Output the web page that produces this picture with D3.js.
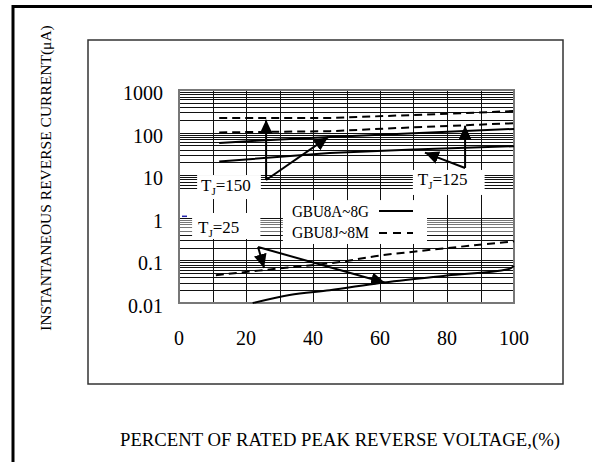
<!DOCTYPE html>
<html>
<head>
<meta charset="utf-8">
<script src="https://cdn.jsdelivr.net/npm/d3@7"></script>
<style>
  body { margin: 0; background: #fff; }
  svg { display: block; }
</style>
</head>
<body>
<div id="chart"></div>
<script>
// axis ticks
const xTicks = [0, 20, 40, 60, 80, 100];
const xGridVals = [0, 10, 20, 30, 40, 50, 60, 70, 80, 90, 100];
const yTicks = [1000, 100, 10, 1, 0.1, 0.01];
const yTickLabels = ["1000", "100", "10", "1", "0.1", "0.01"];
const decades = [0.01, 0.1, 1, 10, 100];
const minorSteps = [1, 2, 3, 4, 5, 6, 7, 8, 9];
const missingMinor = [2, 3, 4]; // the 1..10 decade has no lines at 2,3,4

// curves: x = % of rated voltage, y = µA
const tj150DashX = [12, 45, 70, 100];
const tj150DashY = [220, 220, 259, 320];
const tj125DashX = [12, 45, 70, 100];
const tj125DashY = [101, 108, 133, 166];
const tj150SolidX = [12, 23, 45, 70, 100];
const tj150SolidY = [57, 64, 79, 96, 122];
const tj125SolidX = [12, 45, 70, 100];
const tj125SolidY = [21, 33, 40, 48];
const tj25DashX = [11, 30, 48, 60, 70, 100];
const tj25DashY = [0.045, 0.065, 0.092, 0.13, 0.16, 0.28];
const tj25SolidX = [22, 33, 45, 60, 80, 98.5, 100];
const tj25SolidY = [0.01, 0.0155, 0.02, 0.0295, 0.044, 0.063, 0.074];

// arrows: [fromX, fromY, toX, toY]
const arrows = [
  [26, 7.7, 26, 200],
  [26, 7.7, 44.5, 78],
  [85.4, 14.8, 85.4, 145],
  [85.4, 14.8, 73.4, 34],
  [23.6, 0.206, 25.4, 0.066],
  [23.6, 0.206, 61.5, 0.03]
];

// temperature labels
const tjNames = ["150", "125", "25"];
const tjLabelX = [6.6, 71.3, 5.7];
const tjLabelY = [4.25, 5.9, 0.44];

// legend
const legendNames = ["GBU8A~8G", "GBU8J~8M"];
const legendX = 33.7;
const legendY = [1.04, 0.336];

const W = 592, H = 462;
const svg = d3.select("#chart").append("svg").attr("width", W).attr("height", H);

const x = d3.scaleLinear().domain([0, 100]).range([179, 514]);
const y = d3.scaleLog().domain([0.01, 1000]).range([303, 90]);

// outer frame (runs off the page right and bottom)
svg.append("rect").attr("x", 13).attr("y", 6.5).attr("width", 620).attr("height", 500)
  .attr("fill", "none").attr("stroke", "#000").attr("stroke-width", 3);

// inner box
svg.append("rect").attr("x", 88).attr("y", 40).attr("width", 475).attr("height", 344)
  .attr("fill", "none").attr("stroke", "#333").attr("stroke-width", 1.5);

const grid = svg.append("g").attr("shape-rendering", "crispEdges");

// horizontal grid
let hLines = [1000];
decades.forEach(d => {
  minorSteps.forEach(m => {
    if (d === 1 && missingMinor.includes(m)) return;
    hLines.push(d * m);
  });
});
grid.selectAll(".hl").data(hLines).enter().append("line")
  .attr("x1", x(0)).attr("x2", x(100))
  .attr("y1", d => Math.round(y(d)) + 0.5).attr("y2", d => Math.round(y(d)) + 0.5)
  .attr("stroke", d => (d > 0.45 && d < 1) ? "#777" : "#111")
  .attr("stroke-width", 1);

// vertical grid
grid.selectAll(".vl").data(xGridVals).enter().append("line")
  .attr("x1", d => Math.round(x(d)) + 0.5).attr("x2", d => Math.round(x(d)) + 0.5)
  .attr("y1", y(1000)).attr("y2", y(0.01))
  .attr("stroke", "#111").attr("stroke-width", 1);

// plot border
svg.append("rect").attr("x", x(0)).attr("y", y(1000))
  .attr("width", x(100) - x(0)).attr("height", y(0.01) - y(1000))
  .attr("fill", "none").attr("stroke", "#777").attr("stroke-width", 2);

// small blue mark at 1 on the left edge
svg.append("line").attr("x1", x(0) + 3).attr("x2", x(0) + 8)
  .attr("y1", y(1) - 1.5).attr("y2", y(1) - 1.5)
  .attr("stroke", "#2222aa").attr("stroke-width", 1.5);

// tick labels
const font = "'Liberation Serif', 'Times New Roman', serif";
svg.selectAll(".yt").data(yTicks).enter().append("text")
  .attr("x", 163).attr("y", d => y(d) + 10)
  .attr("text-anchor", "end").attr("font-family", font).attr("font-size", 20)
  .text((d, i) => yTickLabels[i]);

svg.selectAll(".xt").data(xTicks).enter().append("text")
  .attr("x", d => x(d)).attr("y", 345)
  .attr("text-anchor", "middle").attr("font-family", font).attr("font-size", 20)
  .text(d => d);

// axis titles
svg.append("text").attr("x", 120).attr("y", 446)
  .attr("font-family", font).attr("font-size", 19)
  .attr("textLength", 440).attr("lengthAdjust", "spacingAndGlyphs")
  .text("PERCENT OF RATED PEAK REVERSE VOLTAGE,(%)");

svg.append("text").attr("transform", "translate(51,178) rotate(-90)")
  .attr("text-anchor", "middle")
  .attr("font-family", font).attr("font-size", 15.5)
  .text("INSTANTANEOUS REVERSE CURRENT(\u03bcA)");

// white label boxes (drawn over the grid)
const boxLayer = svg.append("g");
const textLayer = svg.append("g");
const tjPad = [[4, 10, 1, 2], [5, 17, 0, 4], [6, 21, 5, 0]];

tjNames.forEach((name, i) => {
  const t = textLayer.append("text")
    .attr("x", x(tjLabelX[i])).attr("y", y(tjLabelY[i]))
    .attr("font-family", font).attr("font-size", 17);
  t.append("tspan").text("T");
  t.append("tspan").attr("font-size", 11).attr("dy", 4).text("J");
  t.append("tspan").attr("dy", -4).text("=" + name);
  const b = t.node().getBBox();
  const p = tjPad[i];
  boxLayer.append("rect")
    .attr("x", b.x - p[0]).attr("y", b.y - p[2])
    .attr("width", b.width + p[0] + p[1]).attr("height", b.height + p[2] + p[3])
    .attr("fill", "#fff");
});

// legend
const legG = textLayer.append("g");
legendNames.forEach((name, i) => {
  legG.append("text").attr("x", x(legendX)).attr("y", y(legendY[i]))
    .attr("font-family", font).attr("font-size", 17)
    .attr("textLength", 77).attr("lengthAdjust", "spacingAndGlyphs")
    .text(name);
  legG.append("line")
    .attr("x1", 379).attr("x2", 413)
    .attr("y1", y(legendY[i]) - 6 + i).attr("y2", y(legendY[i]) - 6 + i)
    .attr("stroke", "#000").attr("stroke-width", 2)
    .attr("stroke-dasharray", i === 1 ? "8,6" : null);
});
{
  const b = legG.node().getBBox();
  boxLayer.append("rect")
    .attr("x", b.x - 9).attr("y", b.y - 2)
    .attr("width", b.width + 9 + 14).attr("height", b.height + 4)
    .attr("fill", "#fff");
}

// curves
const curveLayer = svg.append("g");
textLayer.raise();
const line = d3.line().x(d => x(d[0])).y(d => y(d[1]));
const smooth = d3.line().x(d => x(d[0])).y(d => y(d[1])).curve(d3.curveMonotoneX);
const series = [
  [tj150DashX, tj150DashY, true, line],
  [tj125DashX, tj125DashY, true, line],
  [tj150SolidX, tj150SolidY, false, line],
  [tj125SolidX, tj125SolidY, false, line],
  [tj25DashX, tj25DashY, true, smooth],
  [tj25SolidX, tj25SolidY, false, smooth]
];
series.forEach(s => {
  curveLayer.append("path")
    .attr("d", s[3](s[0].map((v, i) => [v, s[1][i]])))
    .attr("fill", "none").attr("stroke", "#000").attr("stroke-width", 2)
    .attr("stroke-dasharray", s[2] ? "8,5" : null);
});

// arrows
svg.append("defs").append("marker")
  .attr("id", "head").attr("markerUnits", "userSpaceOnUse")
  .attr("markerWidth", 15).attr("markerHeight", 14)
  .attr("refX", 14).attr("refY", 6.5).attr("orient", "auto")
  .append("path").attr("d", "M0,0 L14,6.5 L0,13 Z").attr("fill", "#000");

curveLayer.selectAll(".arrow").data(arrows).enter().append("line")
  .attr("x1", d => x(d[0])).attr("y1", d => y(d[1]))
  .attr("x2", d => x(d[2])).attr("y2", d => y(d[3]))
  .attr("stroke", "#000").attr("stroke-width", 2)
  .attr("marker-end", "url(#head)");
</script>
</body>
</html>
